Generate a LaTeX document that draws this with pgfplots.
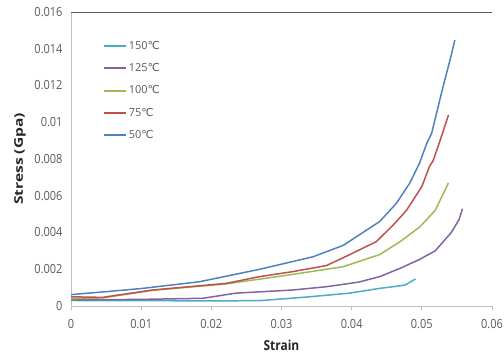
\documentclass[border=0pt]{standalone}
\usepackage{pgfplots}
\pgfplotsset{compat=1.18}
\usepackage{fontspec}
\setmainfont{Open Sans}
\newfontfamily\dejavu{DejaVu Sans}
\newcommand{\degC}{{\dejavu ℃}}
\definecolor{c150}{HTML}{4BACC6}
\definecolor{c125}{HTML}{8064A2}
\definecolor{c100}{HTML}{9BBB59}
\definecolor{c75}{HTML}{C0504D}
\definecolor{c50}{HTML}{4F81BD}
\definecolor{axl}{HTML}{BFBFBF}
\definecolor{axd}{HTML}{595959}
\definecolor{txt}{HTML}{595959}
\begin{document}
\begin{tikzpicture}
\path[use as bounding box] (0,0) rectangle (504bp,355bp);
\begin{axis}[
  at={(71bp,49bp)}, anchor=origin,
  scale only axis, width=421bp, height=294bp,
  xmin=0, xmax=0.06, ymin=0, ymax=0.016,
  xtick={0,0.01,...,0.06}, ytick={0,0.002,...,0.016},
  scaled x ticks=false, scaled y ticks=false,
  /pgf/number format/fixed, /pgf/number format/precision=3,
  /pgf/number format/assume math mode=true,
  axis lines=left, axis line style={draw=axl, line width=0.8pt, -},
  tick align=outside, x tick style={draw=axl, line width=0.8pt}, major tick length=4bp,
  y tick style={draw=none},
  tick label style={font=\fontsize{11}{13}\selectfont, text=txt, yscale=1.15},
  xticklabel style={yshift=-5bp},
  yticklabel style={xshift=-1bp},
  xlabel={\textbf{Strain}}, ylabel={\textbf{Stress (Gpa)}},
  label style={font=\fontsize{12}{14}\selectfont, text=black!85},
  xlabel style={yshift=-3bp, yscale=1.15},
  ylabel style={yshift=2bp, xscale=1.3},
  legend style={at={(rel axis cs:0.075,0.908)}, anchor=north west, draw=none, fill=none,
    font=\fontsize{11}{12}\selectfont, text=txt, row sep=8.7bp, inner sep=0pt},
  legend cell align=left,
  legend image code/.code={\draw[#1, line width=2pt] (0bp,0bp) -- (22bp,0bp);},
  every axis plot/.append style={line width=1.5pt, no markers},
]
\addplot[c150] coordinates {
(0,0.00030) (0.01,0.00029) (0.02,0.00028) (0.0269,0.00029) (0.034,0.00050) (0.0397,0.00070) (0.044,0.00096) (0.0459,0.00105) (0.0476,0.00114) (0.0491,0.00147)};
\addlegendentry{150\degC}
\addplot[c125] coordinates {
(0,0.00033) (0.01,0.00036) (0.0188,0.00042) (0.0235,0.00070) (0.0316,0.00087) (0.0364,0.00105) (0.041,0.00130) (0.044,0.00160) (0.0469,0.00205) (0.0497,0.00254) (0.0519,0.00300) (0.0542,0.00400) (0.0553,0.00470) (0.0558,0.00530)};
\addlegendentry{125\degC}
\addplot[c100] coordinates {
(0,0.00040) (0.0045,0.00044) (0.0116,0.00085) (0.0221,0.00120) (0.0316,0.00172) (0.0388,0.00214) (0.044,0.00280) (0.0469,0.00350) (0.0497,0.00430) (0.0519,0.00520) (0.0538,0.00670)};
\addlegendentry{100\degC}
\addplot[c75] coordinates {
(0,0.00050) (0.0045,0.00047) (0.0116,0.00087) (0.0221,0.00123) (0.0269,0.00160) (0.0316,0.00187) (0.0364,0.00220) (0.0392,0.00270) (0.0435,0.00350) (0.0459,0.00440) (0.0478,0.00520) (0.0500,0.00650) (0.0511,0.00760) (0.0516,0.00790) (0.0526,0.00900) (0.0538,0.01040)};
\addlegendentry{75\degC}
\addplot[c50] coordinates {
(0,0.00062) (0.005,0.00078) (0.01,0.00095) (0.0183,0.00132) (0.0269,0.00200) (0.0345,0.00268) (0.0388,0.00330) (0.044,0.00460) (0.0464,0.00560) (0.0483,0.00670) (0.0497,0.00780) (0.0507,0.00885) (0.0514,0.00940) (0.0530,0.01190) (0.0542,0.01366) (0.0547,0.01448)};
\addlegendentry{50\degC}
\draw[axd, line width=0.8pt] (rel axis cs:0,1) -- (rel axis cs:1,1) -- (rel axis cs:1,0);
\end{axis}
\end{tikzpicture}
\end{document}
